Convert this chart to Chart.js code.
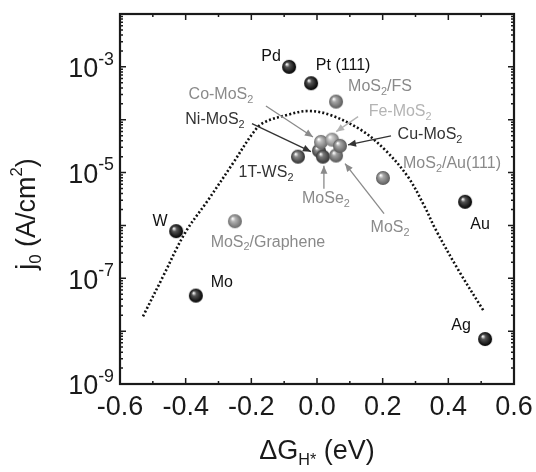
<!DOCTYPE html>
<html>
<head>
<meta charset="utf-8">
<script src="https://cdn.jsdelivr.net/npm/chart.js@4.4.1/dist/chart.umd.min.js"></script>
<style>
  html, body { margin: 0; padding: 0; background: #fff; }
</style>
</head>
<body>
<canvas id="myChart" width="536" height="472"></canvas>
<script>
// pure metals: free energy of H adsorption (eV) vs exchange current density (A/cm2)
var metalNames = ['Pd', 'Pt (111)', 'W', 'Mo', 'Au', 'Ag'];
var metalDG = [-0.085, -0.018, -0.429, -0.369, 0.451, 0.512];
var metalJ0 = [1.0e-3, 4.9e-4, 7.8e-7, 4.7e-8, 2.8e-6, 7.1e-9];

// MoS2 type catalysts
var mosNames = ['MoS_{2}/FS', 'MoS_{2}/Au(111)', 'MoS_{2}/Graphene', '1T-WS_{2}', 'Ni-MoS_{2}', 'Co-MoS_{2}', 'Fe-MoS_{2}', 'MoSe_{2}', 'MoS_{2}', 'Cu-MoS_{2}'];
var mosDG = [0.058, 0.201, -0.250, -0.058, 0.006, 0.012, 0.046, 0.018, 0.058, 0.070];
var mosJ0 = [2.2e-4, 7.9e-6, 1.2e-6, 2.0e-5, 2.6e-5, 3.8e-5, 4.2e-5, 2.0e-5, 2.1e-5, 3.2e-5];

// dotted volcano curve
var curveDG = [-0.530, -0.470, -0.402, -0.332, -0.256, -0.195, -0.164, -0.091, -0.027, 0.040, 0.134, 0.207, 0.277, 0.329, 0.359, 0.430, 0.506];
var curveJ0 = [1.9e-8, 1.05e-7, 7.2e-7, 3.0e-6, 1.5e-5, 5.6e-5, 8.7e-5, 1.23e-4, 1.46e-4, 1.23e-4, 6.4e-5, 2.7e-5, 8.3e-6, 2.2e-6, 8.9e-7, 1.45e-7, 2.5e-8];

// axes
var xMajor = [-0.6, -0.4, -0.2, 0.0, 0.2, 0.4, 0.6];
var xMinor = [-0.5, -0.3, -0.1, 0.1, 0.3, 0.5];
var yDecades = [-9, -8, -7, -6, -5, -4, -3, -2];
var yLabelExps = [-9, -7, -5, -3];

// label placement (pixel offsets from the ball), colours, arrows
var labelStyle = {
  'Pd':               { dx: -18, dy: -10, color: '#111' },
  'Pt (111)':         { dx: 32, dy: -18, color: '#111' },
  'W':                { dx: -16, dy: -10, color: '#111' },
  'Mo':               { dx: 26, dy: -13, color: '#111' },
  'Au':               { dx: 15, dy: 23, color: '#111' },
  'Ag':               { dx: -24, dy: -13, color: '#111' },
  'MoS_{2}/FS':       { dx: 44, dy: -15, color: '#8a8a8a' },
  'MoS_{2}/Au(111)':  { dx: 69, dy: -14, color: '#8a8a8a' },
  'MoS_{2}/Graphene': { dx: 33, dy: 21, color: '#8a8a8a' },
  '1T-WS_{2}':        { dx: -32, dy: 16, color: '#333' },
  'Co-MoS_{2}':       { dx: -100, dy: -47, color: '#8a8a8a', arrow: [-55, -36, -8, -5] },
  'Ni-MoS_{2}':       { dx: -104, dy: -31, color: '#333', arrow: [-67, -27, -8, 1] },
  'Fe-MoS_{2}':       { dx: 68, dy: -28, color: '#b4b4b4', arrow: [26, -23, 4, -8] },
  'Cu-MoS_{2}':       { dx: 90, dy: -11, color: '#333', arrow: [51, -10, 8, -1] },
  'MoSe_{2}':         { dx: 3, dy: 42, color: '#8a8a8a', arrow: [1, 32, 1, 9] },
  'MoS_{2}':          { dx: 54, dy: 72, color: '#8a8a8a', arrow: [48, 58, 9, 8] }
};

var ballShade = {
  'metal': ['#000000', '#555555'],
  'MoS_{2}/FS': ['#5a5a5a', '#a8a8a8'],
  'MoS_{2}/Au(111)': ['#5a5a5a', '#a8a8a8'],
  'MoS_{2}/Graphene': ['#6a6a6a', '#b4b4b4'],
  '1T-WS_{2}': ['#303030', '#8a8a8a'],
  'Ni-MoS_{2}': ['#3a3a3a', '#8a8a8a'],
  'Co-MoS_{2}': ['#6a6a6a', '#bdbdbd'],
  'Fe-MoS_{2}': ['#7a7a7a', '#c8c8c8'],
  'MoSe_{2}': ['#333333', '#7a7a7a'],
  'MoS_{2}': ['#555555', '#a0a0a0'],
  'Cu-MoS_{2}': ['#5a5a5a', '#a8a8a8']
};

var FONT = "'Liberation Sans', Arial, sans-serif";

function makeBall(dark, light, r) {
  var c = document.createElement('canvas');
  c.width = c.height = 2 * r + 2;
  var g = c.getContext('2d');
  var cx = r + 1, cy = r + 1;
  var grad = g.createRadialGradient(cx - r * 0.35, cy - r * 0.4, r * 0.05, cx, cy, r);
  grad.addColorStop(0, '#ffffff');
  grad.addColorStop(0.3, light);
  grad.addColorStop(1, dark);
  g.fillStyle = grad;
  g.beginPath();
  g.arc(cx, cy, r, 0, 2 * Math.PI);
  g.fill();
  return c;
}

// text with _{sub} and ^{sup} parts
function parseRich(text) {
  var parts = [], re = /([_^])\{([^}]*)\}/g, last = 0, m;
  while ((m = re.exec(text)) !== null) {
    if (m.index > last) parts.push({ t: text.slice(last, m.index), k: 'n' });
    parts.push({ t: m[2], k: m[1] === '_' ? 'sub' : 'sup' });
    last = re.lastIndex;
  }
  if (last < text.length) parts.push({ t: text.slice(last), k: 'n' });
  return parts;
}

function drawRich(ctx, text, x, y, size, color, align, small) {
  var parts = parseRich(text);
  var ss = size * (small || 0.65);
  var w = 0;
  parts.forEach(function(p) {
    ctx.font = (p.k === 'n' ? size : ss) + 'px ' + FONT;
    p.w = ctx.measureText(p.t).width;
    w += p.w;
  });
  var cx = align === 'right' ? x - w : (align === 'left' ? x : x - w / 2);
  ctx.fillStyle = color;
  ctx.textBaseline = 'middle';
  ctx.textAlign = 'left';
  parts.forEach(function(p) {
    var dy = 0;
    if (p.k === 'sub') dy = size * 0.32;
    if (p.k === 'sup') dy = -size * 0.38;
    ctx.font = (p.k === 'n' ? size : ss) + 'px ' + FONT;
    ctx.fillText(p.t, cx, y + dy);
    cx += p.w;
  });
}

var framePlugin = {
  id: 'frame',
  beforeDatasetsDraw: function(chart) {
    var ctx = chart.ctx, a = chart.chartArea;
    var xs = chart.scales.x, ys = chart.scales.y;
    ctx.save();
    ctx.strokeStyle = '#1a1a1a';
    ctx.lineWidth = 1.5;
    function vtick(v, len) {
      var px = xs.getPixelForValue(v);
      ctx.beginPath();
      ctx.moveTo(px, a.bottom); ctx.lineTo(px, a.bottom - len);
      ctx.moveTo(px, a.top); ctx.lineTo(px, a.top + len);
      ctx.stroke();
    }
    function htick(v, len) {
      var py = ys.getPixelForValue(v);
      ctx.beginPath();
      ctx.moveTo(a.left, py); ctx.lineTo(a.left + len, py);
      ctx.moveTo(a.right, py); ctx.lineTo(a.right - len, py);
      ctx.stroke();
    }
    xMajor.forEach(function(v) { vtick(v, 6); });
    xMinor.forEach(function(v) { vtick(v, 3); });
    yDecades.forEach(function(d) {
      htick(Math.pow(10, d), 6);
      if (d < -2) {
        for (var k = 2; k <= 9; k++) htick(k * Math.pow(10, d), 3);
      }
    });
    ctx.lineWidth = 2.2;
    ctx.strokeRect(a.left, a.top, a.right - a.left, a.bottom - a.top);

    // tick labels
    xMajor.forEach(function(v) {
      drawRich(ctx, v.toFixed(1), xs.getPixelForValue(v), a.bottom + 24, 27, '#1a1a1a', 'center');
    });
    yLabelExps.forEach(function(e) {
      drawRich(ctx, '10^{' + e + '}', a.left - 6, ys.getPixelForValue(Math.pow(10, e)) + 3, 27, '#1a1a1a', 'right', 0.66);
    });

    // axis titles
    drawRich(ctx, '\u0394G_{H*} (eV)', (a.left + a.right) / 2, a.bottom + 68, 27, '#1a1a1a', 'center', 0.6);
    ctx.translate(28, (a.top + a.bottom) / 2 + 15);
    ctx.rotate(-Math.PI / 2);
    drawRich(ctx, 'j_{0} (A/cm^{2})', 0, 0, 27, '#1a1a1a', 'center', 0.62);
    ctx.restore();
  },
  afterDatasetsDraw: function(chart) {
    var ctx = chart.ctx;
    var xs = chart.scales.x, ys = chart.scales.y;
    ctx.save();
    function place(name, dg, j0) {
      var s = labelStyle[name];
      if (!s) return;
      var px = xs.getPixelForValue(dg), py = ys.getPixelForValue(j0);
      if (s.arrow) {
        var tx = px + s.arrow[0], ty = py + s.arrow[1];
        var hx = px + s.arrow[2], hy = py + s.arrow[3];
        ctx.strokeStyle = s.color;
        ctx.fillStyle = s.color;
        ctx.lineWidth = 1.3;
        ctx.beginPath(); ctx.moveTo(tx, ty); ctx.lineTo(hx, hy); ctx.stroke();
        var ang = Math.atan2(hy - ty, hx - tx);
        ctx.beginPath();
        ctx.moveTo(hx, hy);
        ctx.lineTo(hx - 8 * Math.cos(ang) + 3.5 * Math.sin(ang), hy - 8 * Math.sin(ang) - 3.5 * Math.cos(ang));
        ctx.lineTo(hx - 8 * Math.cos(ang) - 3.5 * Math.sin(ang), hy - 8 * Math.sin(ang) + 3.5 * Math.cos(ang));
        ctx.closePath();
        ctx.fill();
      }
      drawRich(ctx, name, px + s.dx, py + s.dy, 16, s.color, 'center', 0.68);
    }
    metalNames.forEach(function(n, i) { place(n, metalDG[i], metalJ0[i]); });
    mosNames.forEach(function(n, i) { place(n, mosDG[i], mosJ0[i]); });
    ctx.restore();
  }
};

var metalBall = makeBall(ballShade.metal[0], ballShade.metal[1], 7);
var mosBalls = mosNames.map(function(n) { return makeBall(ballShade[n][0], ballShade[n][1], 7); });

var ctx = document.getElementById('myChart');
new Chart(ctx, {
  type: 'scatter',
  data: {
    datasets: [
      {
        label: 'metals',
        data: metalDG.map(function(x, i) { return { x: x, y: metalJ0[i] }; }),
        pointStyle: metalBall,
        pointRadius: 7,
        order: 0
      },
      {
        label: 'MoS2',
        data: mosDG.map(function(x, i) { return { x: x, y: mosJ0[i] }; }),
        pointStyle: function(c) { return mosBalls[c.dataIndex]; },
        pointRadius: 7,
        order: 1
      },
      {
        type: 'line',
        label: 'volcano',
        data: curveDG.map(function(x, i) { return { x: x, y: curveJ0[i] }; }),
        borderColor: '#111',
        borderWidth: 2.6,
        borderDash: [2, 2.2],
        pointRadius: 0,
        tension: 0.35,
        fill: false,
        order: 2
      }
    ]
  },
  options: {
    responsive: false,
    animation: false,
    devicePixelRatio: 1,
    layout: { padding: { left: 120, right: 22, top: 14, bottom: 88 } },
    plugins: { legend: { display: false }, tooltip: { enabled: false } },
    scales: {
      x: { type: 'linear', min: -0.6, max: 0.6, display: false },
      y: { type: 'logarithmic', min: 1e-9, max: 1e-2, display: false }
    }
  },
  plugins: [framePlugin]
});
</script>
</body>
</html>
